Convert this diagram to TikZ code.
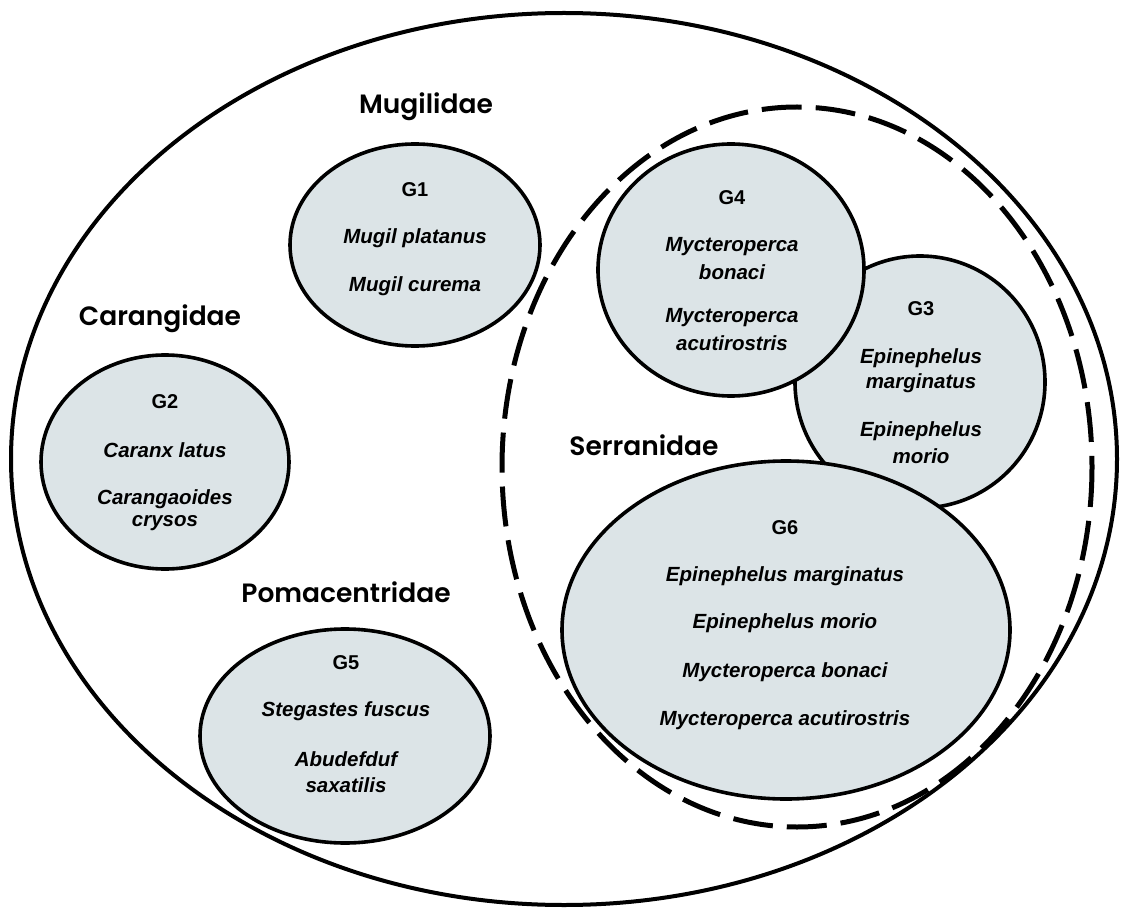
\documentclass[tikz,border=0pt]{standalone}
\usepackage{fontspec}
\setmainfont{Liberation Sans}
\newfontfamily\famfont{Poppins SemiBold}
\usetikzlibrary{shapes.geometric}
\definecolor{grpfill}{RGB}{220,228,231}
\tikzset{
  grp/.style={draw=black, line width=3.6pt, fill=grpfill},
  famlabel/.style={font=\famfont\fontsize{26.5}{30}\selectfont, anchor=center, inner sep=0pt},
  gtitle/.style={font=\bfseries\fontsize{20}{23}\selectfont, anchor=center, inner sep=0pt},
  sp/.style={font=\bfseries\itshape\fontsize{20.5}{23}\selectfont, anchor=center, inner sep=0pt},
}
\begin{document}
\begin{tikzpicture}[x=1pt,y=-1pt]
\useasboundingbox (0,0) rectangle (1122,909);
% outer ellipse
\draw[line width=4pt] (564,459) ellipse [x radius=553, y radius=446];
% dashed family ellipse
\draw[line width=5pt, dash pattern=on 40pt off 14pt] (797,467) ellipse [x radius=295, y radius=360];
% groups
\draw[grp] (415,245) ellipse [x radius=125, y radius=101];
\draw[grp] (165,462) ellipse [x radius=124, y radius=107];
\draw[grp] (920,382) ellipse [x radius=125, y radius=126];
\draw[grp] (731,270) ellipse [x radius=133, y radius=126];
\draw[grp] (786,630) ellipse [x radius=224, y radius=169];
\draw[grp] (345,736) ellipse [x radius=145, y radius=107];
% family labels
\node[famlabel] (fMug) at (426,107) {Mugilidae};
\node[famlabel] (fCar) at (160,319) {Carangidae};
\node[famlabel] (fPom) at (346,592) {Pomacentridae};
\node[famlabel] (fSer) at (644,445) {Serranidae};
% G1
\node[gtitle] (g1) at (415,190) {G1};
\node[sp] (g1a) at (415,238) {Mugil platanus};
\node[sp] (g1b) at (415,286) {Mugil curema};
% G2
\node[gtitle] (g2) at (165,402) {G2};
\node[sp] (g2a) at (165,450) {Caranx latus};
\node[sp] (g2b) at (165,499) {Carangaoides};
\node[sp] (g2c) at (165,523) {crysos};
% G4
\node[gtitle] (g4) at (732,198) {G4};
\node[sp] (g4a) at (732,247) {Mycteroperca};
\node[sp] (g4b) at (732,272) {bonaci};
\node[sp] (g4c) at (732,318) {Mycteroperca};
\node[sp] (g4d) at (732,343) {acutirostris};
% G3
\node[gtitle] (g3) at (921,309) {G3};
\node[sp] (g3a) at (921,358) {Epinephelus};
\node[sp] (g3b) at (921,383) {marginatus};
\node[sp] (g3c) at (921,431) {Epinephelus};
\node[sp] (g3d) at (921,456) {morio};
% G6
\node[gtitle] (g6) at (785,528) {G6};
\node[sp] (g6a) at (785,576) {Epinephelus marginatus};
\node[sp] (g6b) at (785,623) {Epinephelus morio};
\node[sp] (g6c) at (785,672) {Mycteroperca bonaci};
\node[sp] (g6d) at (785,720) {Mycteroperca acutirostris};
% G5
\node[gtitle] (g5) at (346,663) {G5};
\node[sp] (g5a) at (346,711) {Stegastes fuscus};
\node[sp] (g5b) at (346,759) {Abudefduf};
\node[sp] (g5c) at (346,785) {saxatilis};
\end{tikzpicture}
\end{document}
